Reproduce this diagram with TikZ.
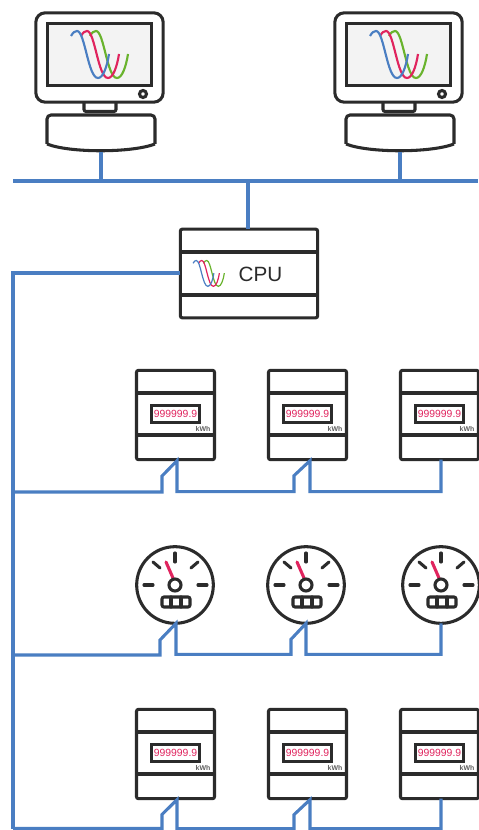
\documentclass[tikz,border=0pt]{standalone}
\usepackage{fontspec}
\setmainfont{Liberation Sans}
\usetikzlibrary{positioning, calc}
\definecolor{busblue}{HTML}{4A7EC2}
\definecolor{darkline}{HTML}{2B2B2B}
\definecolor{wavered}{HTML}{E0245E}
\definecolor{wavegreen}{HTML}{69B32D}
\definecolor{screengray}{HTML}{F3F3F3}

% one set of three waves, (0,0) is the top left corner of the set
\newcommand{\wavepath}{
  (0,5) .. controls (2,1.5) and (4,0) .. (6,0)
  .. controls (14,0) and (17,47) .. (27,47)
  .. controls (32,47) and (36,36) .. (38,23)
}
\newcommand{\threewaves}[4]{
  \begin{scope}[shift={(#1,#2)}, xscale=#4, yscale=#4, line width=#3]
    \draw[wavegreen, shift={(19,0)}] \wavepath;
    \draw[wavered, shift={(10,0)}] \wavepath;
    \draw[busblue] \wavepath;
  \end{scope}
}
% inside of a meter, drawn around its node
\newcommand{\meterface}[1]{
  \draw[thinrule] ($(#1.center)+(-39.5,-22)$) -- ++(79,0);
  \draw[thinrule] ($(#1.center)+(-39.5,20)$) -- ++(79,0);
  \node[display, at={($(#1.center)+(0,-1)$)}] (#1display) {999999.9};
  \node[unittext, at={($(#1.center)+(27.5,14)$)}] (#1unit) {kWh};
}
% inside of a gauge, drawn around its node
\newcommand{\gaugeface}[1]{
  \begin{scope}[shift={(#1.center)}, thinrule, line cap=round]
    \draw (0,-32) -- (0,-23);
    \draw (-31,0) -- (-22,0);
    \draw (23,0) -- (32,0);
    \draw (-22,-23) -- (-15,-17);
    \draw (23,-23) -- (16,-17);
    \draw[wavered] (-2,-7) -- (-9,-23);
    \draw (0,0) circle[radius=6];
    \draw[rounded corners=1.5pt] (-13,12) rectangle (15,22);
    \draw (-4,12) -- (-4,22);
    \draw (6,12) -- (6,22);
  \end{scope}
}
% monitor and keyboard above the top bus
\newcommand{\pcunit}[2]{
  \node[screenframe] (#1) at (#2,57.5) {};
  \node[screen] (#1screen) at ($(#1.center)+(0,-3)$) {};
  \threewaves{#2-28.5}{31}{1.6pt}{1}
  \draw[thinrule] ($(#1.center)+(43.5,36.5)$) circle[radius=3.5];
  \draw[thinrule, rounded corners=1.5pt] ($(#1.center)+(-15.5,45.5)$) -- ++(0,8.5) -- ++(32,0) -- ++(0,-8.5);
  \coordinate (#1key) at (#2+1.5,152);
  \draw[thinrule, rounded corners=3pt] (#2-52.5,144) -- (#2-52.5,115) -- (#2+55.5,115) -- (#2+55.5,144);
  \draw[thinrule] (#2-52.5,144) .. controls (#2-30,153) and (#2+32,153) .. (#2+55.5,144);
}

\begin{document}
\begin{tikzpicture}[x=0.75pt, y=-0.75pt,
    thinrule/.style={draw=darkline, line width=2.3pt},
    bus/.style={draw=busblue, line width=2.3pt, line join=miter},
    screenframe/.style={draw=darkline, line width=2.3pt, rounded corners=7pt, fill=white,
      minimum width=95.5pt, minimum height=67pt, inner sep=0pt, outer sep=0pt},
    screen/.style={draw=darkline, line width=2.3pt, fill=screengray,
      minimum width=78.5pt, minimum height=47pt, inner sep=0pt, outer sep=0pt},
    boxnode/.style={draw=darkline, line width=2.3pt, rounded corners=1.5pt, fill=white,
      inner sep=0pt, outer sep=0pt},
    meter/.style={boxnode, minimum width=58.5pt, minimum height=67pt},
    gauge/.style={circle, draw=darkline, line width=2.3pt, fill=white,
      minimum size=57.5pt, inner sep=0pt, outer sep=0pt},
    display/.style={draw=darkline, line width=2.3pt, fill=white, text=wavered,
      font=\fontsize{7.8}{8}\selectfont, minimum width=36pt, minimum height=12.5pt,
      inner sep=0pt},
    unittext/.style={text=darkline!75, font=\fontsize{5.2}{6}\bfseries\selectfont, inner sep=0pt}]
  \useasboundingbox (0,0) rectangle (478,830);

  \pcunit{pcleft}{99.5}
  \pcunit{pcright}{398.5}

  \node[boxnode, minimum width=103pt, minimum height=66.5pt] (cpu) at (249,273.5) {};
  \draw[thinrule] ($(cpu.center)+(-69,-21.5)$) -- ++(138,0);
  \draw[thinrule] ($(cpu.center)+(-69,21.5)$) -- ++(138,0);
  \threewaves{193}{260.5}{0.9pt}{0.55}
  \node[inner sep=0pt, text=darkline, font=\fontsize{15.5}{18}\selectfont] (cputext) at (260.5,274.5) {CPU};

  % METERS AND GAUGES
  \node[meter] (kwhA) at (175.5,415) {};
  \node[meter] (kwhB) at (307.5,415) {};
  \node[meter] (kwhC) at (439.5,415) {};
  \node[meter] (kwhD) at (175.5,754) {};
  \node[meter] (kwhE) at (307.5,754) {};
  \node[meter] (kwhF) at (439.5,754) {};
  \foreach \m in {kwhA, kwhB, kwhC, kwhD, kwhE, kwhF} {
    \meterface{\m}
  }

  \node[gauge] (dialA) at (175,585) {};
  \node[gauge] (dialB) at (306,585) {};
  \node[gauge] (dialC) at (441,585) {};
  \foreach \m in {dialA, dialB, dialC} {
    \gaugeface{\m}
  }

  % BUS LINES
  \coordinate (topleft) at (13,181);
  \coordinate (topright) at (478,181);
  \coordinate (topmid) at (248,181);
  \coordinate (trunktop) at (13,273);
  \coordinate (trunkA) at (13,492);
  \coordinate (trunkB) at (13,655);
  \coordinate (trunkC) at (13,828.5);

  \draw[bus] (topleft) -- (topright);
  \draw[bus] (pcleftkey) -- (pcleftkey |- topleft);
  \draw[bus] (pcrightkey) -- (pcrightkey |- topleft);
  \draw[bus] (topmid) -- (topmid |- cpu.north);
  \draw[bus] (cpu.west |- trunktop) -- (trunktop) -- (trunkC);

  \draw[bus] (trunkA) -- ++(149,0) -- ++(0,-16)
  -- ($(kwhA.south)+(1.5,1)$) -- ($(kwhA.south)+(1.5,32)$)
  -- ++(117,0) -- ++(0,-16)
  -- ($(kwhB.south)+(2.5,1)$) -- ($(kwhB.south)+(2.5,32)$)
  -| ($(kwhC.south)+(1.5,0)$);

  \draw[bus] (trunkB) -- ++(147,0) -- ++(0,-15)
  -- ($(dialA.south)+(1,0)$) -- ($(dialA.south)+(1,31)$)
  -- ++(115,0) -- ++(0,-15)
  -- (dialB.south) -- ($(dialB.south)+(0,31)$)
  -| (dialC.south);

  \draw[bus] (trunkC) -- ++(149,0) -- ++(0,-14)
  -- ($(kwhD.south)+(1.5,1)$) -- ($(kwhD.south)+(1.5,30)$)
  -- ++(117,0) -- ++(0,-14)
  -- ($(kwhE.south)+(2.5,1)$) -- ($(kwhE.south)+(2.5,30)$)
  -| ($(kwhF.south)+(1.5,0)$);
\end{tikzpicture}
\end{document}
